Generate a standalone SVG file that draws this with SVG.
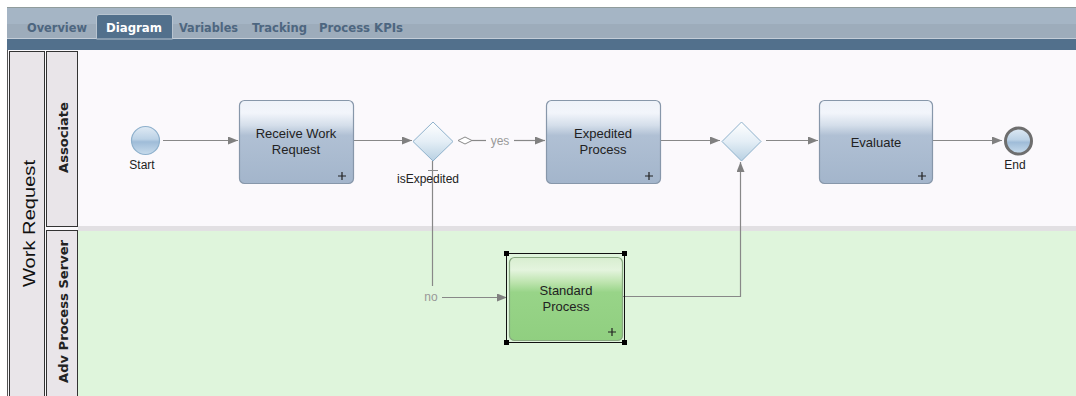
<svg xmlns="http://www.w3.org/2000/svg" width="1076" height="396" viewBox="0 0 1076 396">
<defs>
<linearGradient id="task" x1="0" y1="0" x2="0" y2="1">
<stop offset="0" stop-color="#eef2f9"/>
<stop offset="0.15" stop-color="#f2f5fb"/>
<stop offset="0.3" stop-color="#d4deea"/>
<stop offset="0.42" stop-color="#b0c0d4"/>
<stop offset="1" stop-color="#a3b5cb"/>
</linearGradient>
<linearGradient id="green" x1="0" y1="0" x2="0" y2="1">
<stop offset="0" stop-color="#d8eed0"/>
<stop offset="0.15" stop-color="#e4f4de"/>
<stop offset="0.3" stop-color="#bde4ae"/>
<stop offset="0.42" stop-color="#98d488"/>
<stop offset="1" stop-color="#90cf80"/>
</linearGradient>
<linearGradient id="gw" x1="0" y1="0" x2="0" y2="1">
<stop offset="0" stop-color="#ffffff"/>
<stop offset="0.5" stop-color="#e4eef6"/>
<stop offset="1" stop-color="#b8d0e2"/>
</linearGradient>
<linearGradient id="ev" x1="0" y1="0" x2="0" y2="1">
<stop offset="0" stop-color="#dfeaf4"/>
<stop offset="0.45" stop-color="#bcd2e6"/>
<stop offset="0.55" stop-color="#9fbcd8"/>
<stop offset="1" stop-color="#c8dcec"/>
</linearGradient>
<marker id="arr" markerWidth="10" markerHeight="8" refX="10" refY="4" orient="auto" markerUnits="userSpaceOnUse">
<path d="M0,0 L10,4 L0,8 z" fill="#808080"/>
</marker>
<style>
.tab{font-family:"DejaVu Sans",sans-serif;font-weight:bold;font-size:12px;fill:#4d6680}
.tt{font-family:"Liberation Sans",Arial,sans-serif;font-size:13px;fill:#222;text-anchor:middle}
.lbl{font-family:"Liberation Sans",Arial,sans-serif;font-size:12px;fill:#222;text-anchor:middle}
.cl{font-family:"Liberation Sans",Arial,sans-serif;font-size:12px;fill:#999;text-anchor:middle}
.task{fill:url(#task);stroke:#8797aa;stroke-width:1.2}
.gwy{fill:url(#gw);stroke:#8fb2cc;stroke-width:1}
.plus{stroke:#222;stroke-width:1.2}
.flow{fill:none;stroke:#888;stroke-width:1.2}
.lane{font-family:"DejaVu Sans",sans-serif;font-size:12.5px;font-weight:bold;fill:#222;text-anchor:middle}
</style>
</defs>
<rect width="1076" height="396" fill="#ffffff"/>
<!-- header -->
<rect x="7" y="7" width="1069" height="17" fill="#a5b5c5"/>
<rect x="7" y="24" width="1069" height="15" fill="#9dacbb"/>
<line x1="7" y1="7.5" x2="1076" y2="7.5" stroke="#909c9c"/>
<line x1="7" y1="38.5" x2="1076" y2="38.5" stroke="#c3cdd8"/>
<rect x="7" y="39" width="1069" height="11" fill="#52708c"/>
<path d="M96.5,39 L96.5,17 Q96.5,14.5 99,14.5 L170,14.5 Q172.5,14.5 172.5,17 L172.5,39 Z" fill="#52708c" stroke="#b8c4d0" stroke-width="1"/>
<g id="tabs">
<text class="tab" x="27" y="32" textLength="60" lengthAdjust="spacingAndGlyphs">Overview</text>
<text class="tab" x="106" y="32" textLength="56" lengthAdjust="spacingAndGlyphs" style="fill:#ffffff">Diagram</text>
<text class="tab" x="179" y="32" textLength="59" lengthAdjust="spacingAndGlyphs">Variables</text>
<text class="tab" x="252" y="32" textLength="55" lengthAdjust="spacingAndGlyphs">Tracking</text>
<text class="tab" x="319" y="32" textLength="84" lengthAdjust="spacingAndGlyphs">Process KPIs</text>
</g>
<!-- lanes -->
<rect x="7" y="50" width="1069" height="346" fill="#fbf9fc"/>
<rect x="78" y="226" width="998" height="5" fill="#e2e0e3"/>
<rect x="78" y="231" width="998" height="165" fill="#dff5dc"/>
<line x1="7.5" y1="50" x2="7.5" y2="396" stroke="#555" stroke-width="1"/>
<g id="pool">
<rect x="9.5" y="51.5" width="35" height="350" fill="#e9e5e9" stroke="#333" stroke-width="1"/>
<text transform="translate(35,223.5) rotate(-90)" font-family="Liberation Sans,Arial,sans-serif" font-size="17" fill="#111" text-anchor="middle" textLength="127" lengthAdjust="spacingAndGlyphs">Work Request</text>
</g>
<g id="lane-associate">
<rect x="46.5" y="51.5" width="31" height="175" fill="#e9e5e9" stroke="#333" stroke-width="1"/>
<text class="lane" transform="translate(68,137.5) rotate(-90)" textLength="71" lengthAdjust="spacingAndGlyphs">Associate</text>
</g>
<g id="lane-adv">
<rect x="46.5" y="230.5" width="31" height="170" fill="#e9e5e9" stroke="#333" stroke-width="1"/>
<text class="lane" transform="translate(68,311.5) rotate(-90)" textLength="143" lengthAdjust="spacingAndGlyphs">Adv Process Server</text>
</g>
<!-- connectors -->
<g id="connectors">
<path class="flow" d="M163,140.5 H238" marker-end="url(#arr)"/>
<path class="flow" d="M353,140.5 H412" marker-end="url(#arr)"/>
<path class="flow" d="M472,140.5 H486"/>
<path d="M458,140.5 L465,137 L472,140.5 L465,144 Z" fill="#fff" stroke="#888" stroke-width="1"/>
<text class="cl" x="500" y="145">yes</text>
<path class="flow" d="M514,140.5 H545" marker-end="url(#arr)"/>
<path class="flow" d="M660,140.5 H720" marker-end="url(#arr)"/>
<path class="flow" d="M766,140.5 H818" marker-end="url(#arr)"/>
<path class="flow" d="M933,140.5 H1002" marker-end="url(#arr)"/>
<path class="flow" d="M432.5,161 V286"/>
<line x1="428" y1="170.5" x2="438" y2="170.5" stroke="#888" stroke-width="1"/>
<text class="cl" x="431" y="301">no</text>
<path class="flow" d="M442,297.5 H507" marker-end="url(#arr)"/>
<path class="flow" d="M623,296.5 H740.5 V162" marker-end="url(#arr)"/>
</g>
<!-- nodes -->
<g id="start">
<circle cx="145.5" cy="140.5" r="14" fill="url(#ev)" stroke="#8eb0cc" stroke-width="1.2"/>
<text class="lbl" x="142" y="169">Start</text>
</g>
<g id="receive">
<rect class="task" x="239.5" y="100.5" width="114" height="83" rx="5"/>
<text class="tt" x="296" y="138">Receive Work</text>
<text class="tt" x="296" y="154">Request</text>
<path class="plus" d="M338,176 H346 M342,172 V180"/>
</g>
<g id="isExpedited">
<path class="gwy" d="M433,122 L453,141.5 L433,161 L413,141.5 Z"/>
<text class="lbl" x="428" y="183">isExpedited</text>
</g>
<g id="expedited">
<rect class="task" x="546.5" y="100.5" width="114" height="83" rx="5"/>
<text class="tt" x="603" y="138">Expedited</text>
<text class="tt" x="603" y="154">Process</text>
<path class="plus" d="M645,176 H653 M649,172 V180"/>
</g>
<g id="merge">
<path class="gwy" d="M741.5,122 L761,141.5 L741.5,161 L722,141.5 Z"/>
</g>
<g id="evaluate">
<rect class="task" x="819.5" y="100.5" width="113" height="83" rx="5"/>
<text class="tt" x="876" y="147">Evaluate</text>
<path class="plus" d="M918,176 H926 M922,172 V180"/>
</g>
<g id="end">
<circle cx="1018.5" cy="141" r="13" fill="url(#ev)" stroke="#6e6e6e" stroke-width="3"/>
<text class="lbl" x="1015" y="169">End</text>
</g>
<g id="standard">
<rect x="506.5" y="253.5" width="118" height="89" fill="none" stroke="#111" stroke-width="1"/>
<rect x="509.5" y="257.5" width="113" height="83" rx="5" fill="url(#green)" stroke="#88a880" stroke-width="1.2"/>
<text class="tt" x="566" y="295">Standard</text>
<text class="tt" x="566" y="311">Process</text>
<path class="plus" d="M608,332 H616 M612,328 V336"/>
<rect x="504" y="251" width="5" height="5" fill="#000"/>
<rect x="622" y="251" width="5" height="5" fill="#000"/>
<rect x="504" y="340" width="5" height="5" fill="#000"/>
<rect x="622" y="340" width="5" height="5" fill="#000"/>
</g>
</svg>
